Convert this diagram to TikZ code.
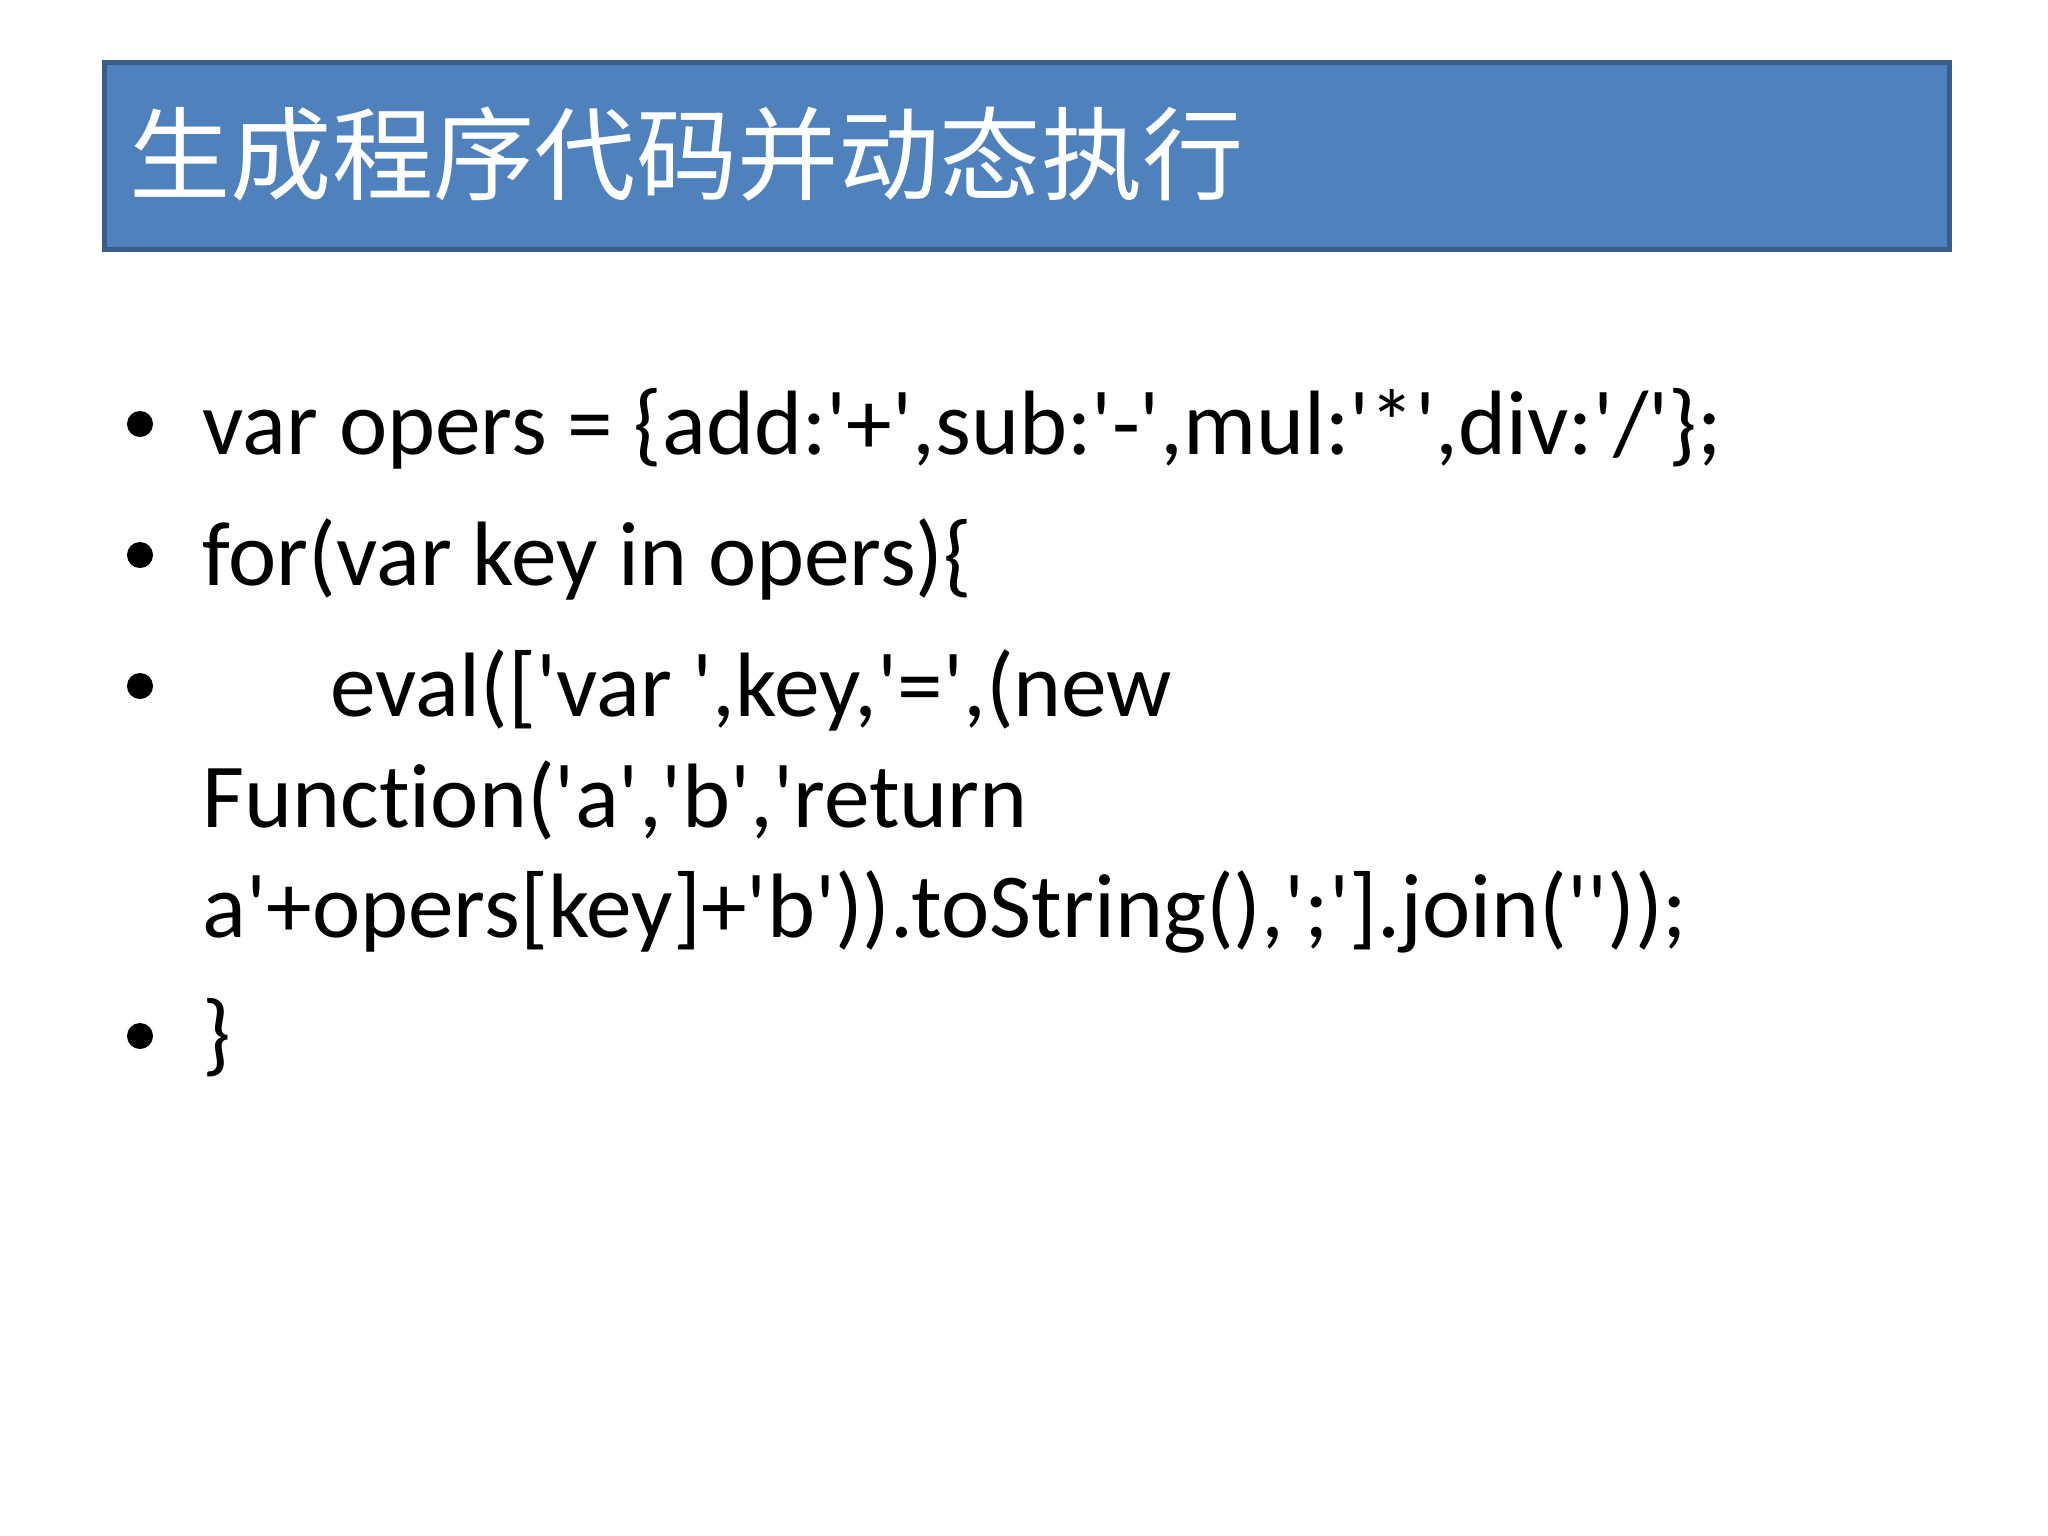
\documentclass[tikz,border=0pt]{standalone}
\usepackage{fontspec}
\newfontfamily\cjk{Noto Sans CJK SC}
\newfontfamily\bodyfont{Carlito}[Ligatures=NoCommon]
\definecolor{titlefill}{HTML}{4F81BD}
\definecolor{titleedge}{HTML}{385D8A}
\begin{document}
\begin{tikzpicture}[x=0.01cm,y=-0.01cm,
  codeline/.style={anchor=base west,inner sep=0pt,font=\bodyfont\fontsize{26}{31}\selectfont},
  bul/.style={circle,fill=black,inner sep=0pt,minimum size=0.26cm}]
\useasboundingbox (0,0) rectangle (2048,1536);
\fill[white] (0,0) rectangle (2048,1536);
\node[draw=titleedge,line width=1.5pt,fill=titlefill,minimum width=18.44cm,minimum height=1.87cm,anchor=north west,inner sep=0pt] (title) at (102,60) {};
\node[anchor=west,inner sep=0pt,text=white,font=\cjk\fontsize{28.8}{35}\selectfont] (tt) at (129,154) {生成程序代码并动态执行};
\node[bul] (b1) at (140,424) {};
\node[bul] (b2) at (140,555) {};
\node[bul] (b3) at (140,686) {};
\node[bul] (b4) at (140,1036) {};
\node[codeline] (l1) at (202,454) {var opers = \{add:'+',sub:'-',mul:'*',div:'/'\};};
\node[codeline] (l2) at (202,585) {for(var key in opers)\{};
\node[codeline] (l3) at (330,716) {eval(['var ',key,'=',(new};
\node[codeline] (l4) at (202,827) {Function('a','b','return};
\node[codeline] (l5) at (202,937) {a'+opers[key]+'b')).toString(),';'].join(''));};
\node[codeline] (l6) at (202,1064) {\}};
\end{tikzpicture}
\end{document}
